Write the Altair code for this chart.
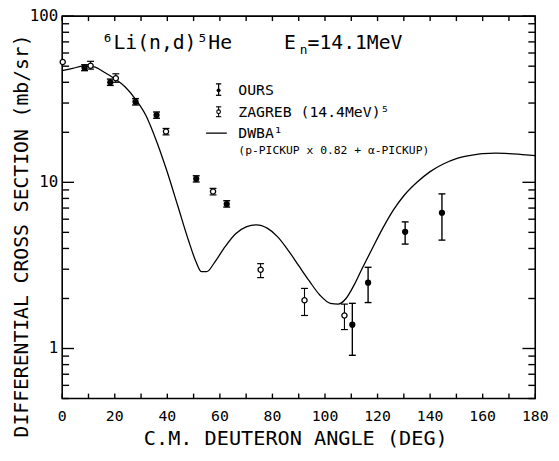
import altair as alt
import pandas as pd

FONT = "DejaVu Sans Mono"

# ---- data ----
ours_angle = [8.5, 18.3, 27.9, 35.9, 51.0, 62.6, 110.4, 116.4, 130.5, 144.5]
ours_sigma = [49.0, 40.0, 30.5, 25.4, 10.5, 7.4, 1.39, 2.49, 5.04, 6.56]
ours_lo = [47.0, 38.3, 29.2, 24.3, 10.05, 7.1, 0.91, 1.89, 4.25, 4.49]
ours_hi = [51.0, 41.8, 31.9, 26.5, 10.95, 7.75, 1.87, 3.08, 5.78, 8.52]

zag_angle = [0.2, 10.8, 20.4, 39.5, 57.4, 75.5, 92.2, 107.4]
zag_sigma = [53.0, 50.3, 42.3, 20.2, 8.8, 2.98, 1.95, 1.58]
zag_lo = [None, 48.0, 40.0, 19.3, 8.4, 2.67, 1.58, 1.30]
zag_hi = [None, 53.5, 45.0, 21.1, 9.2, 3.24, 2.30, 1.85]

dwba_angle = [0, 4, 8, 12, 16, 20, 24, 28, 32, 36, 40, 44, 48, 51, 53, 55, 58, 62, 66,
              70, 74, 78, 82, 86, 90, 94, 98, 102, 105, 108, 111, 114, 118, 122, 126,
              130, 135, 140, 145, 150, 155, 160, 165, 170, 175, 180]
dwba_sigma = [47, 48.5, 50, 49.5, 46, 42, 37.5, 31.5, 25, 17.5, 11.5, 7.2, 4.5, 3.3, 2.9,
              2.9, 3.3, 4.1, 4.9, 5.4, 5.55, 5.3, 4.7, 3.9, 3.15, 2.55, 2.1, 1.87, 1.85,
              2.0, 2.4, 3.0, 4.0, 5.3, 6.8, 8.3, 10.0, 11.6, 12.9, 13.9, 14.5, 14.9, 15.0,
              14.9, 14.7, 14.5]

x_ticks = list(range(0, 181, 10))
x_labels = list(range(0, 181, 20))
y_major = [1, 10, 100]
y_minor = [0.5, 0.6, 0.7, 0.8, 0.9, 2, 3, 4, 5, 6, 7, 8, 9, 20, 30, 40, 50, 60, 70, 80, 90]

title_reaction = "⁶Li(n,d)⁵He"
title_energy_e = "E"
title_energy_sub = "n"
title_energy_rest = "=14.1MeV"
legend_labels = ["OURS", "ZAGREB (14.4MeV)⁵", "DWBA¹"]
legend_note = "(p-PICKUP x 0.82 + α-PICKUP)"
x_title = "C.M. DEUTERON ANGLE (DEG)"
y_title = "DIFFERENTIAL CROSS SECTION (mb/sr)"

ours = pd.DataFrame({"angle": ours_angle, "sigma": ours_sigma, "lo": ours_lo, "hi": ours_hi})
zag = pd.DataFrame({"angle": zag_angle, "sigma": zag_sigma, "lo": zag_lo, "hi": zag_hi})
dwba = pd.DataFrame({"angle": dwba_angle, "sigma": dwba_sigma})
xt = alt.Data(values=[{"tx": float(v)} for v in x_ticks])
xl = alt.Data(values=[{"lx": float(v), "lab": str(v)} for v in x_labels])
ymaj = alt.Data(values=[{"ty": float(v)} for v in y_major])
ylab = alt.Data(values=[{"ly": float(v), "lab": str(v)} for v in y_major])
ymin = alt.Data(values=[{"ty": float(v)} for v in y_minor])

W, H = 480, 388
XMIN, XMAX = 0, 180
YMIN, YMAX = 0.5, 100
xs = alt.Scale(domain=[XMIN, XMAX], nice=False, zero=False)
ys = alt.Scale(type="log", domain=[YMIN, YMAX], nice=False)

# tick lengths (pixels) expressed in data units of each scale
DEG_PER_PX = (XMAX - XMIN) / W
DEC_PER_PX = 2.30103 / H


def xoff(px, from_right=False):
    return XMAX - px * DEG_PER_PX if from_right else XMIN + px * DEG_PER_PX


def yoff(px, from_top=False):
    return YMAX / 10 ** (px * DEC_PER_PX) if from_top else YMIN * 10 ** (px * DEC_PER_PX)


curve = alt.Chart(dwba).mark_line(color="black", strokeWidth=1.3, interpolate="monotone").encode(
    x=alt.X("angle:Q", scale=xs, axis=None),
    y=alt.Y("sigma:Q", scale=ys, axis=None),
)

TW = 1.4


def xtick_layer(from_top, length):
    a = YMAX if from_top else YMIN
    b = yoff(length, from_top)
    return alt.Chart(xt).mark_rule(color="black", strokeWidth=TW, opacity=1).encode(
        x=alt.X("tx:Q", scale=xs, axis=None),
        y=alt.Y(datum=a, scale=ys, axis=None),
        y2=alt.Y2(datum=b),
    )


def ytick_layer(data, from_right, length):
    a = XMAX if from_right else XMIN
    b = xoff(length, from_right)
    return alt.Chart(data).mark_rule(color="black", strokeWidth=TW, opacity=1).encode(
        y=alt.Y("ty:Q", scale=ys, axis=None),
        x=alt.X(datum=a, scale=xs, axis=None),
        x2=alt.X2(datum=b),
    )


tick_layers = [
    xtick_layer(False, 5), xtick_layer(True, 5),
    ytick_layer(ymaj, False, 12), ytick_layer(ymin, False, 7),
    ytick_layer(ymaj, True, 13), ytick_layer(ymin, True, 7),
]

# tick labels as text, positioned through the scales
x_tick_labels = alt.Chart(xl).mark_text(font=FONT, fontSize=15, color="black", align="center",
                                        baseline="top", dy=11).encode(
    x=alt.X("lx:Q", scale=xs, axis=None),
    y=alt.Y(datum=YMIN, scale=ys, axis=None),
    text="lab:N",
)
y_tick_labels = alt.Chart(ylab).mark_text(font=FONT, fontSize=16, color="black", align="right",
                                          baseline="middle", dx=-4).encode(
    x=alt.X(datum=XMIN, scale=xs, axis=None),
    y=alt.Y("ly:Q", scale=ys, axis=None),
    text="lab:N",
)

ours_bar = alt.Chart(ours).mark_rule(color="black", strokeWidth=1.4).encode(
    x=alt.X("angle:Q", scale=xs, axis=None),
    y=alt.Y("lo:Q", scale=ys, axis=None),
    y2="hi:Q",
)
ours_caps = alt.Chart(ours).transform_fold(["lo", "hi"], as_=["k", "v"]).mark_tick(
    orient="horizontal", size=7, thickness=1.4, color="black", opacity=1).encode(
    x=alt.X("angle:Q", scale=xs, axis=None),
    y=alt.Y("v:Q", scale=ys, axis=None),
)
zag_bar = alt.Chart(zag).transform_filter("isValid(datum.lo)").mark_rule(color="black", strokeWidth=1.1).encode(
    x=alt.X("angle:Q", scale=xs, axis=None),
    y=alt.Y("lo:Q", scale=ys, axis=None),
    y2="hi:Q",
)
zag_caps = alt.Chart(zag).transform_filter("isValid(datum.lo)").transform_fold(
    ["lo", "hi"], as_=["k", "v"]).mark_tick(
    orient="horizontal", size=7, thickness=1.2, color="black", opacity=1).encode(
    x=alt.X("angle:Q", scale=xs, axis=None),
    y=alt.Y("v:Q", scale=ys, axis=None),
)
ours_pts = alt.Chart(ours).mark_point(shape="circle", filled=True, color="black", size=40, opacity=1).encode(
    x=alt.X("angle:Q", scale=xs, axis=None),
    y=alt.Y("sigma:Q", scale=ys, axis=None),
)
zag_pts = alt.Chart(zag).mark_point(shape="circle", filled=True, fill="white", stroke="black",
                                    strokeWidth=1.3, size=28, opacity=1).encode(
    x=alt.X("angle:Q", scale=xs, axis=None),
    y=alt.Y("sigma:Q", scale=ys, axis=None),
)


def label(txt, x, y, size, baseline="alphabetic", align="left", angle=0):
    return alt.Chart(pd.DataFrame({"t": [txt]})).mark_text(
        font=FONT, fontSize=size, color="black", align=align, baseline=baseline, angle=angle).encode(
        x=alt.value(x), y=alt.value(y), text="t:N")


one = pd.DataFrame({"k": [0]})


def vrule(x, y1, y2, w=1.3):
    return alt.Chart(one).mark_rule(color="black", strokeWidth=w).encode(
        x=alt.value(x), y=alt.value(y1), y2=alt.value(y2))


def hrule(x1, x2, y, w=1.3):
    return alt.Chart(one).mark_rule(color="black", strokeWidth=w).encode(
        x=alt.value(x1), x2=alt.value(x2), y=alt.value(y))


def dot(x, y, filled, size):
    if filled:
        m = alt.Chart(one).mark_point(shape="circle", filled=True, color="black", size=size, opacity=1)
    else:
        m = alt.Chart(one).mark_point(shape="circle", filled=True, fill="white", stroke="black",
                                      strokeWidth=1.1, size=size, opacity=1)
    return m.encode(x=alt.value(x), y=alt.value(y))


annotations = [
    label(x_title, 237, 429, 20.5, baseline="middle", align="center"),
    label(y_title, -41, 223, 20, baseline="middle", align="center", angle=270),
    label(title_reaction, 40, 33.7, 20),
    label(title_energy_e, 225, 33.7, 20),
    label(title_energy_sub, 241, 38.5, 13),
    label(title_energy_rest, 249, 33.7, 20),
    label(legend_labels[0], 178.7, 74.5, 15, baseline="middle"),
    label(legend_labels[1], 178.7, 97, 15, baseline="middle"),
    label(legend_labels[2], 178.7, 118.5, 15, baseline="middle"),
    label(legend_note, 178.7, 137, 11.5, baseline="middle"),
    # legend symbols
    vrule(158.7, 68.7, 80.3), hrule(156, 161.4, 68.7), hrule(156, 161.4, 80.3), dot(158.7, 75.3, True, 16),
    vrule(158.7, 92, 102, 1.1), hrule(156, 161.4, 92, 1.1), hrule(156, 161.4, 102, 1.1), dot(158.7, 97, False, 14),
    hrule(146, 167, 118.7),
]

chart = alt.layer(
    curve, *tick_layers, x_tick_labels, y_tick_labels,
    ours_bar, zag_bar, ours_pts, ours_caps, zag_caps, zag_pts, *annotations
).properties(
    width=W, height=H,
    autosize=alt.AutoSizeParams(type="none"),
    padding={"left": 55, "top": 5, "right": 16, "bottom": 52},
    background="white",
).configure_view(stroke="black", strokeWidth=1.6)

chart.save("out.html", embed_options={"renderer": "svg", "actions": False})
